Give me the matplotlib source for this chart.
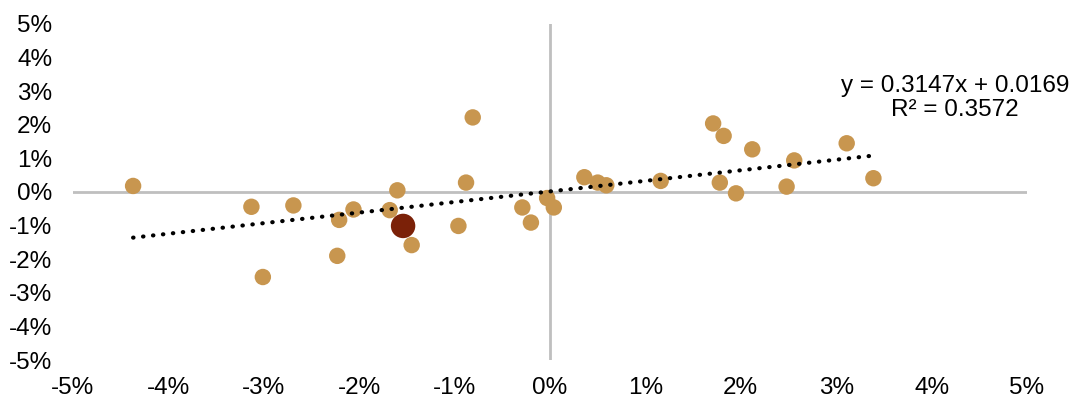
import numpy as np
import matplotlib
matplotlib.use("Agg")
import matplotlib.pyplot as plt
from matplotlib.ticker import FuncFormatter

plt.rcParams['font.family'] = ['Liberation Sans', 'DejaVu Sans']

# scatter values, in percent
x_vals = [-4.37, -3.13, -3.01, -2.69, -2.23, -2.21, -2.06, -1.68, -1.60, -1.45,
          -0.96, -0.88, -0.81, -0.29, -0.20, -0.03, 0.04, 0.36, 0.50, 0.59,
          1.16, 1.71, 1.78, 1.82, 1.95, 2.12, 2.48, 2.56, 3.11, 3.39]
y_vals = [0.18, -0.44, -2.53, -0.40, -1.90, -0.83, -0.52, -0.54, 0.05, -1.58,
          -1.01, 0.28, 2.22, -0.46, -0.91, -0.18, -0.46, 0.44, 0.28, 0.20,
          0.33, 2.04, 0.28, 1.67, -0.04, 1.27, 0.16, 0.94, 1.45, 0.41]

# highlighted point
hi_x = [-1.54]
hi_y = [-1.01]

# trend line as stated on the chart
slope = 0.3147
intercept = 0.0169
r2 = 0.3572

ticks = [-5, -4, -3, -2, -1, 0, 1, 2, 3, 4, 5]

fig = plt.figure(figsize=(10.78, 4.19), dpi=100)
ax = fig.add_axes([73 / 1078, 1 - 360 / 419, (1027 - 73) / 1078, (360 - 24) / 419])

ax.axhline(0, color='#BFBFBF', lw=2, zorder=1)
ax.axvline(0, color='#BFBFBF', lw=2, zorder=1)

ax.scatter(x_vals, y_vals, s=140, color='#C8964F', edgecolors='none', zorder=2)
ax.scatter(hi_x, hi_y, s=310, color='#7B2108', edgecolors='none', zorder=3)

tx = np.array([min(x_vals), max(x_vals)])
ax.plot(tx, slope * tx + intercept, color='black', lw=3,
        linestyle=(0, (0.1, 2.3)), dash_capstyle='round', zorder=4)

fig.text(955 / 1078, 1 - 98 / 419, f"y = {slope}x + {intercept}\nR² = {r2}",
         ha='center', va='center', fontsize=17.5, linespacing=1.1)

ax.set_xlim(-5, 5)
ax.set_ylim(-5, 5)
ax.set_xticks(ticks)
ax.set_yticks(ticks)
fmt = FuncFormatter(lambda v, p: f"{int(round(v))}%")
ax.xaxis.set_major_formatter(fmt)
ax.yaxis.set_major_formatter(fmt)
ax.tick_params(length=0, labelsize=17.5)
ax.tick_params(axis='x', pad=12)
ax.tick_params(axis='y', pad=15)
for s in ax.spines.values():
    s.set_visible(False)

fig.savefig('out.png', dpi=100)
